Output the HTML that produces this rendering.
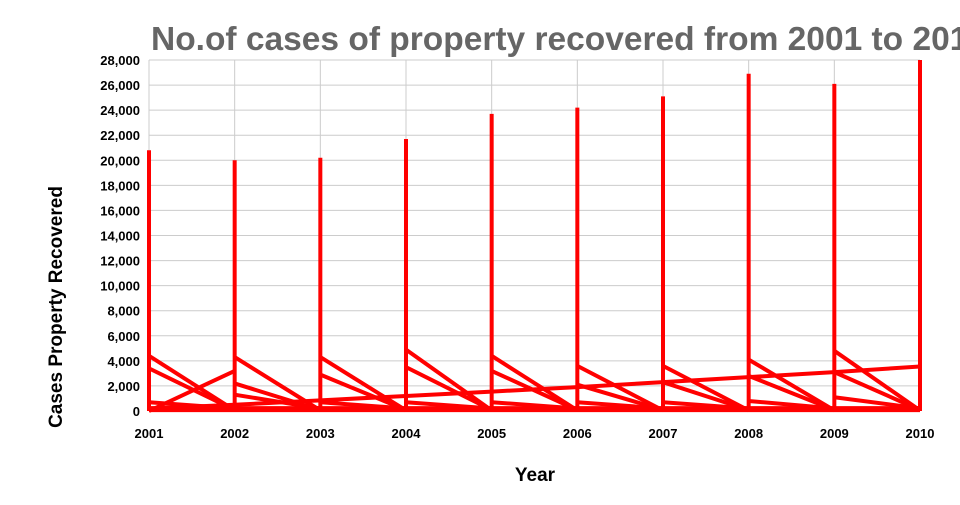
<!DOCTYPE html>
<html><head><meta charset="utf-8"><style>
body{margin:0;background:#fff;width:960px;height:500px;overflow:hidden;font-family:"Liberation Sans",sans-serif}
</style></head><body>
<svg width="960" height="500">
<text x="151" y="50" font-size="33.5" font-weight="bold" fill="#666">No.of cases of property recovered from 2001 to 2010</text>
<g id="grid"></g><g id="marks"></g><g id="labels"></g>
<text x="535" y="481" font-size="19" font-weight="bold" text-anchor="middle">Year</text>
<text transform="translate(62,307) rotate(-90)" font-size="19" font-weight="bold" text-anchor="middle">Cases Property Recovered</text>
</svg>
<script>
const years=[2001,2002,2003,2004,2005,2006,2007,2008,2009,2010];
const totals=[20800,20000,20200,21700,23700,24200,25100,26900,26100,28000];
const diagA=[4400,4300,4300,4900,4400,3600,3600,4100,4800];
const diagB=[3400,2200,2900,3500,3200,2100,2300,2800,3100];
const diagC=[700,1300,700,700,700,700,700,800,1100];
const trend=[200,500,850,1200,1550,1900,2300,2700,3100,3550];
const rise=[0,3200];
const yTicks=[0,2000,4000,6000,8000,10000,12000,14000,16000,18000,20000,22000,24000,26000,28000];
const NS='http://www.w3.org/2000/svg';
const x=i=>149+i*(920-149)/9;
const y=v=>411-v*(411-60)/28000;
const grid=document.getElementById('grid'),marks=document.getElementById('marks'),labels=document.getElementById('labels');
function mk(tag,attrs,parent){const e=document.createElementNS(NS,tag);for(const k in attrs)e.setAttribute(k,attrs[k]);parent.appendChild(e);return e;}
yTicks.forEach(t=>{
 const l=mk('line',{x1:149,x2:920,y1:y(t),y2:y(t),stroke:'#ccc','stroke-width':1},grid);
 
 
 const tx=mk('text',{x:140,y:y(t)+5,'font-size':13,'font-weight':'bold','text-anchor':'end'},labels);
 tx.textContent=t.toLocaleString('en-US');
 
 
});
years.forEach((yr,i)=>{
 const l=mk('line',{x1:x(i),x2:x(i),y1:60,y2:411,stroke:'#ccc','stroke-width':1},grid);
 
 
 const tx=mk('text',{x:x(i),y:438,'font-size':13,'font-weight':'bold','text-anchor':'middle'},labels);
 tx.textContent=yr;
 
 
});
const st={stroke:'#ff0000','stroke-width':4,fill:'none','stroke-linejoin':'round'};
function seg(i1,v1,i2,v2,name){const l=mk('line',Object.assign({x1:x(i1),y1:y(v1),x2:x(i2),y2:y(v2)},st),marks);
 
 }
const base=mk('path',Object.assign({d:'M'+years.map((_,i)=>x(i)+','+y(150)).join('L')},st,{'stroke-width':6}),marks);


totals.forEach((v,i)=>seg(i,0,i,v,'total-spike'));
diagA.forEach((v,i)=>seg(i,v,i+1,50,'diag-a'));
diagB.forEach((v,i)=>seg(i,v,i+1,80,'diag-b'));
diagC.forEach((v,i)=>seg(i,v,i+1,200,'diag-c'));
seg(0,rise[0],1,rise[1],'rise-line');
const tp=mk('path',Object.assign({d:'M'+trend.map((v,i)=>x(i)+','+y(v)).join('L')},st),marks);


</script>
</body></html>
